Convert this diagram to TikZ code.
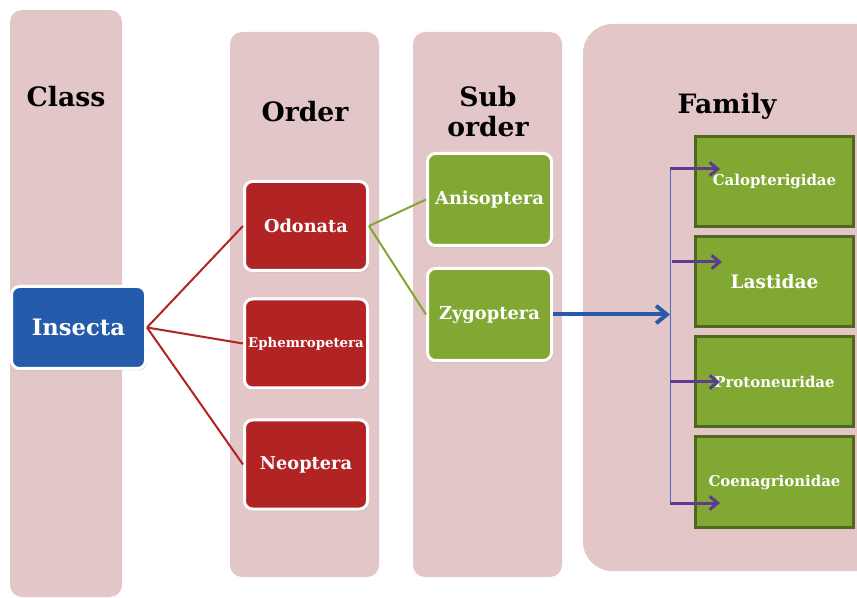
\documentclass[tikz,border=0pt]{standalone}
\usepackage{fontspec}
\setmainfont{DejaVu Serif}
\usetikzlibrary{arrows.meta}
\usetikzlibrary{shadows}
\definecolor{panelpink}{RGB}{227,198,199}
\definecolor{classblue}{RGB}{36,92,171}
\definecolor{orderred}{RGB}{178,35,36}
\definecolor{subgreen}{RGB}{128,168,50}
\definecolor{famborder}{RGB}{79,104,32}
\definecolor{arrowblue}{RGB}{40,90,170}
\definecolor{busblue}{RGB}{70,110,200}
\definecolor{arrowpurple}{RGB}{92,60,142}
\tikzset{every picture/.style={line width=0.75pt}}
\tikzset{
  panel/.style={fill=panelpink,rounded corners=9pt},
  heading/.style={font=\bfseries\fontsize{20}{22.5}\selectfont,align=center,inner sep=0.75pt},
  taxbox/.style={draw=white,line width=2.25pt,rounded corners=6pt,text=white,inner sep=0.75pt,
    drop shadow={opacity=0.3,shadow xshift=1pt,shadow yshift=-1.5pt}},
  classbox/.style={taxbox,fill=classblue,minimum width=100.5pt,minimum height=61.5pt,font=\bfseries\fontsize{17}{20}\selectfont},
  orderbox/.style={taxbox,fill=orderred,minimum width=92.25pt,minimum height=66.75pt,font=\bfseries\fontsize{13.3}{15}\selectfont},
  subbox/.style={taxbox,fill=subgreen,minimum width=93pt,minimum height=69pt,font=\bfseries\fontsize{13.4}{15}\selectfont},
  fambox/.style={draw=famborder,fill=subgreen,line width=2.25pt,text=white,inner sep=0.75pt,
    minimum width=118.5pt,minimum height=67.5pt,font=\bfseries\fontsize{11.2}{13}\selectfont},
  redline/.style={draw=orderred,line width=1.5pt},
  greenline/.style={draw=subgreen,line width=1.5pt},
  bluearrow/.style={draw=arrowblue,line width=3pt,-{Straight Barb[length=8pt,width=13pt]}},
  busline/.style={draw=busblue,line width=0.75pt},
  famarrow/.style={draw=arrowpurple,line width=2.25pt,-{Straight Barb[length=6pt,width=10pt]}}
}

\begin{document}
\begin{tikzpicture}[x=0.75pt,y=0.75pt,yscale=-1,xscale=1]
\clip (0,0) rectangle (857,598);

%Columns
\fill[panel] (10,10) rectangle (122,597);
\fill[panel] (230,32) rectangle (379,577);
\fill[panel] (413,32) rectangle (562,577);
\fill[panel,rounded corners=22pt] (583,24) rectangle (900,571);

% Headings
\node[heading] (class) at (66,97) {Class};
\node[heading] (order) at (305,112) {Order};
\node[heading] (suborder) at (488,112) {Sub\\order};
\node[heading] (family) at (727,106) {Family};

% Class
\node[classbox] (insecta) at (78.5,327.5) {Insecta};

% Orders
\node[orderbox] (odonata) at (306,226) {Odonata};
\node[orderbox,font=\bfseries\fontsize{10}{12}\selectfont] (ephem) at (306,343.5) {Ephemropetera};
\node[orderbox] (neoptera) at (306,464.5) {Neoptera};

% Sub orders
\node[subbox] (aniso) at (489.5,199.5) {Anisoptera};
\node[subbox] (zygo) at (489.5,314.5) {Zygoptera};

% Families
\node[fambox] (calop) at (774.5,181.5) {Calopterigidae};
\node[fambox,font=\bfseries\fontsize{13.9}{16}\selectfont] (lasti) at (774.5,281.5) {Lastidae};
\node[fambox] (proto) at (774.5,381.5) {Protoneuridae};
\node[fambox] (coena) at (774.5,482) {Coenagrionidae};

% Links
\draw[redline] (insecta.east) -- (odonata.west);
\draw[redline] (insecta.east) -- (ephem.west);
\draw[redline] (insecta.east) -- (neoptera.west);
\draw[greenline] (odonata.east) -- (aniso.west);
\draw[greenline] (odonata.east) -- (zygo.west);

% Bracket to families
\coordinate (bus) at (670,314.5);
\coordinate (b1) at (670,169);
\coordinate (b2) at (672,262);
\coordinate (b3) at (670,382);
\coordinate (b4) at (670,503);
\coordinate (e1) at (720,169);
\coordinate (e2) at (722,262);
\coordinate (e3) at (720,382);
\coordinate (e4) at (720,503);
\draw[bluearrow] (zygo.east) -- (bus);
\draw[busline] (b1) -- (b4);
\draw[famarrow] (b1) -- (e1);
\draw[famarrow] (b2) -- (e2);
\draw[famarrow] (b3) -- (e3);
\draw[famarrow] (b4) -- (e4);

\end{tikzpicture}
\end{document}
